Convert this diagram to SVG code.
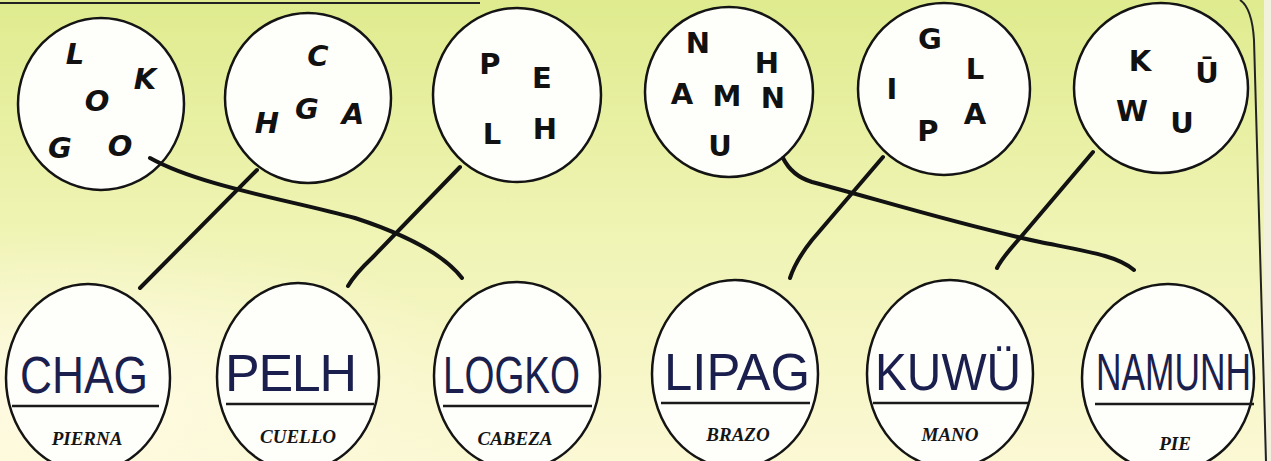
<svg xmlns="http://www.w3.org/2000/svg" width="1271" height="461" viewBox="0 0 1271 461">
<defs>
<linearGradient id="bg" x1="0" y1="0" x2="0" y2="1">
<stop offset="0" stop-color="#dfeb8e"/>
<stop offset="0.45" stop-color="#eef3b0"/>
<stop offset="1" stop-color="#fbf8d4"/>
</linearGradient>
<radialGradient id="glow" cx="0.05" cy="0.85" r="0.35">
<stop offset="0" stop-color="#fffbe6" stop-opacity="0.9"/>
<stop offset="1" stop-color="#fffbe6" stop-opacity="0"/>
</radialGradient>
<style>
.ring{fill:#fefefa;stroke:#141414;stroke-width:2.5}
.lt{font-family:"DejaVu Sans",sans-serif;font-weight:bold;font-size:29px;fill:#111;text-anchor:middle}
.it{font-style:italic}
.hw{font-family:"Liberation Sans",sans-serif;font-size:52px;fill:#1b1f4e}
.ul{stroke:#1a1a1a;stroke-width:2.5}
.lb{font-family:"Liberation Serif",serif;font-style:italic;font-weight:bold;font-size:19px;fill:#151515;text-anchor:middle}
.cn{fill:none;stroke:#121212;stroke-width:4;stroke-linecap:round;stroke-linejoin:round}
.bd{fill:none;stroke:#222;stroke-width:2}
</style>
</defs>
<rect width="1271" height="461" fill="url(#bg)"/>
<rect width="1271" height="461" fill="url(#glow)"/>
<rect x="1264" y="0" width="7" height="461" fill="#f2f1dc"/>
<path class="bd" d="M0,3 L480,3"/>
<path class="bd" d="M1240,0 Q1252,8 1254,40 L1266,461"/>

<g id="top-1">
<ellipse class="ring" cx="101" cy="104" rx="83" ry="86"/>
<text class="lt it" x="75" y="64">L</text>
<text class="lt it" x="145" y="89">K</text>
<text class="lt it" x="97" y="111">O</text>
<text class="lt it" x="60" y="158">G</text>
<text class="lt it" x="120" y="156">O</text>
</g>
<g id="top-2">
<ellipse class="ring" cx="308" cy="98" rx="83" ry="85"/>
<text class="lt it" x="318" y="66">C</text>
<text class="lt it" x="307" y="119">G</text>
<text class="lt it" x="267" y="133">H</text>
<text class="lt it" x="353" y="124">A</text>
</g>
<g id="top-3">
<ellipse class="ring" cx="517" cy="95" rx="84" ry="87"/>
<text class="lt" x="490" y="74">P</text>
<text class="lt" x="542" y="88">E</text>
<text class="lt" x="492" y="144">L</text>
<text class="lt" x="545" y="139">H</text>
</g>
<g id="top-4">
<ellipse class="ring" cx="729" cy="92" rx="84" ry="85"/>
<text class="lt" x="698" y="53">N</text>
<text class="lt" x="767" y="73">H</text>
<text class="lt" x="682" y="104">A</text>
<text class="lt" x="727" y="106">M</text>
<text class="lt" x="773" y="108">N</text>
<text class="lt" x="720" y="156">U</text>
</g>
<g id="top-5">
<ellipse class="ring" cx="944" cy="89" rx="86" ry="86"/>
<text class="lt" x="930" y="49">G</text>
<text class="lt" x="975" y="79">L</text>
<text class="lt" x="892" y="99">I</text>
<text class="lt" x="975" y="124">A</text>
<text class="lt" x="928" y="141">P</text>
</g>
<g id="top-6">
<ellipse class="ring" cx="1161" cy="88" rx="87" ry="85"/>
<text class="lt" x="1140" y="71">K</text>
<text class="lt" x="1207" y="83">Ū</text>
<text class="lt" x="1132" y="121">W</text>
<text class="lt" x="1182" y="133">U</text>
</g>

<g id="bottom-1">
<ellipse class="ring" cx="88" cy="378" rx="82" ry="94"/>
<text class="hw" x="20" y="393" textLength="128" lengthAdjust="spacingAndGlyphs">CHAG</text>
<line class="ul" x1="12" y1="406" x2="159" y2="406"/>
<text class="lb" x="87" y="445">PIERNA</text>
</g>
<g id="bottom-2">
<ellipse class="ring" cx="298" cy="377" rx="81" ry="94"/>
<text class="hw" x="225" y="391" textLength="132" lengthAdjust="spacing">PELH</text>
<line class="ul" x1="226" y1="404" x2="374" y2="404"/>
<text class="lb" x="298" y="443">CUELLO</text>
</g>
<g id="bottom-3">
<ellipse class="ring" cx="517" cy="376" rx="83" ry="94"/>
<text class="hw" x="443" y="393" textLength="137" lengthAdjust="spacingAndGlyphs">LOGKO</text>
<line class="ul" x1="443" y1="406" x2="592" y2="406"/>
<text class="lb" x="515" y="445">CABEZA</text>
</g>
<g id="bottom-4">
<ellipse class="ring" cx="735" cy="374" rx="83" ry="94"/>
<text class="hw" x="664" y="390" textLength="146" lengthAdjust="spacingAndGlyphs">LIPAG</text>
<line class="ul" x1="661" y1="403" x2="810" y2="403"/>
<text class="lb" x="738" y="441">BRAZO</text>
</g>
<g id="bottom-5">
<ellipse class="ring" cx="950" cy="374" rx="83" ry="94"/>
<text class="hw" x="875" y="390" textLength="146" lengthAdjust="spacingAndGlyphs">KUWÜ</text>
<line class="ul" x1="873" y1="403" x2="1028" y2="403"/>
<text class="lb" x="950" y="441">MANO</text>
</g>
<g id="bottom-6">
<ellipse class="ring" cx="1168" cy="378" rx="86" ry="94"/>
<text class="hw" x="0" y="0" transform="translate(1096,390) scale(0.68,1)">NAMUNH</text>
<line class="ul" x1="1095" y1="404" x2="1254" y2="404"/>
<text class="lb" x="1175" y="450">PIE</text>
</g>

<g id="connectors">
<path class="cn" d="M150,158 C200,186 290,200 355,218 C410,236 445,256 462,278"/>
<path class="cn" d="M257,170 L140,288"/>
<path class="cn" d="M460,167 L372,258 Q355,274 348,286"/>
<path class="cn" d="M783,158 Q792,176 812,182 C880,200 960,225 1040,242 C1090,252 1118,256 1134,270"/>
<path class="cn" d="M883,157 L812,240 Q796,260 790,278"/>
<path class="cn" d="M1093,152 L1020,238 Q1002,258 997,268"/>
</g>
</svg>
